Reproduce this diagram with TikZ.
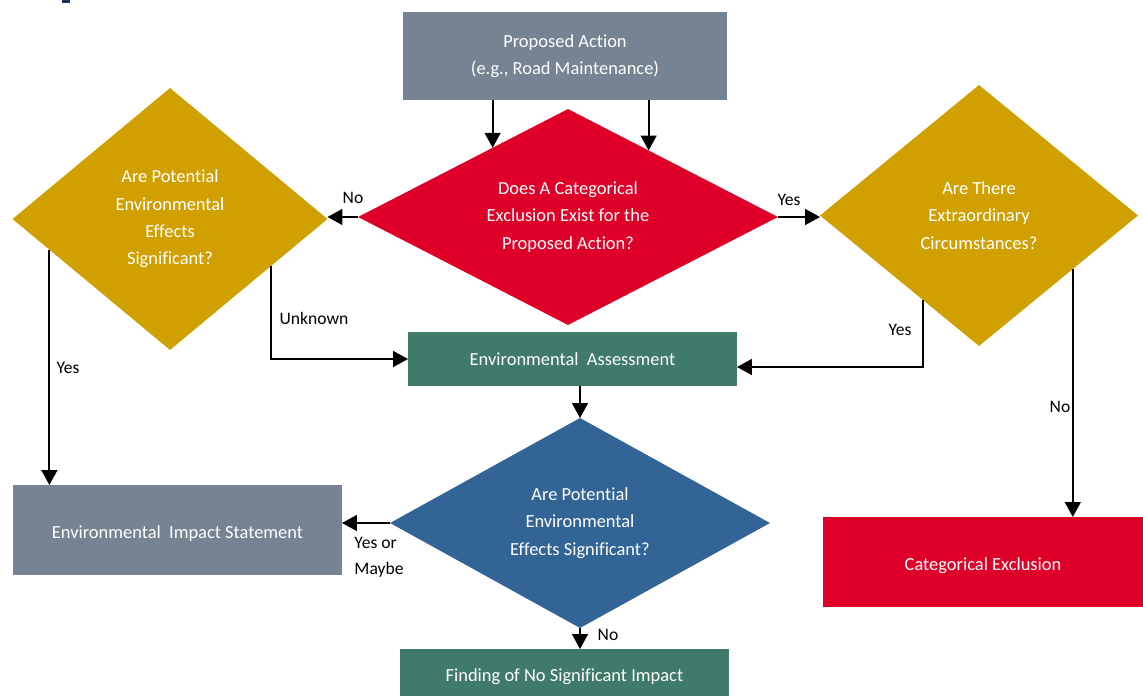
\documentclass[tikz,border=0pt]{standalone}
\usepackage{fontspec}
\setmainfont{Carlito}[Ligatures=NoCommon]
\usetikzlibrary{shapes.geometric,arrows.meta,calc}
\definecolor{slate}{RGB}{117,131,146}
\definecolor{crimson}{RGB}{223,0,41}
\definecolor{gold}{RGB}{207,160,0}
\definecolor{teal}{RGB}{63,122,106}
\definecolor{steel}{RGB}{50,100,150}
\definecolor{navy}{RGB}{28,52,96}
\begin{document}
\begin{tikzpicture}[x=0.02cm,y=-0.02cm,
  box/.style={rectangle, inner sep=0pt, outer sep=0pt, text=white, font=\fontsize{10.5}{15.5}\selectfont, align=center},
  dia/.style={diamond, inner sep=0pt, outer sep=0pt, text=white, font=\fontsize{10.5}{15.5}\selectfont, align=center},
  arr/.style={line width=1.1pt, -{Triangle[length=8.5pt,width=9pt]}},
  lbl/.style={font=\fontsize{10}{15}\selectfont, text=black, inner sep=0pt, align=left}]
\clip (0,0) rectangle (1143,696);
\fill[navy] (62,0) rectangle (70,3);
% boxes
\node[box, fill=slate, minimum width=6.48cm, minimum height=1.76cm] (pa) at (565,56) {Proposed Action\\(e.g., Road Maintenance)};
\node[dia, fill=crimson, minimum width=8.4cm, minimum height=4.32cm, aspect=1.94] (q1) at (568,217) {Does A Categorical\\Exclusion Exist for the\\Proposed Action?};
\node[dia, fill=gold, minimum width=6.3cm, minimum height=5.24cm, aspect=1.2] (lq) at (170,219) {Are Potential\\Environmental\\Effects\\Significant?};
\node[dia, fill=gold, minimum width=6.36cm, minimum height=5.22cm, aspect=1.22] (rq) at (979,215.5) {Are There\\Extraordinary\\Circumstances?};
\node[box, fill=teal, minimum width=6.58cm, minimum height=1.08cm] (ea) at (572.5,359) {Environmental\ \ Assessment};
\node[dia, fill=steel, minimum width=7.6cm, minimum height=4.2cm, aspect=1.81] (bq) at (580,523) {Are Potential\\Environmental\\Effects Significant?};
\node[box, fill=slate, minimum width=6.58cm, minimum height=1.8cm, text height=12pt, text depth=2.3pt] (eis) at (177.5,530) {Environmental\ \ Impact Statement};
\node[box, fill=crimson, minimum width=6.4cm, minimum height=1.8cm, text height=12pt, text depth=2.3pt] (cex) at (983,562) {Categorical Exclusion};
\node[box, fill=teal, minimum width=6.58cm, minimum height=1.12cm] (fon) at (564.5,677) {Finding\ of No Significant Impact};
% connectors
\coordinate (p1) at ($(q1.north)!0.359!(q1.west)$);
\draw[arr] (pa.south -| p1) -- (p1);
\coordinate (p2) at ($(q1.north)!0.384!(q1.east)$);
\draw[arr] (pa.south -| p2) -- (p2);
\draw[arr] (q1.west) -- (q1.west -| lq.east);
\node[lbl] (lno) at (353,198) {No};
\draw[arr] (q1.east) -- (q1.east -| rq.west);
\node[lbl] (lyes) at (789,200) {Yes};
\coordinate (p3) at ($(lq.east)!0.356!(lq.south)$);
\draw[arr] (p3) |- (ea.west);
\node[lbl] (lunk) at (314,318) {Unknown};
\coordinate (p4) at ($(lq.west)!0.234!(lq.south)$);
\draw[arr] (p4) -- (p4 |- eis.north);
\node[lbl] (lyes2) at (68,368) {Yes};
\coordinate (p5) at ($(rq.south)!0.354!(rq.west)$);
\draw[arr] (p5) |- ([yshift=-0.16cm]ea.east);
\node[lbl] (lyes3) at (900,330) {Yes};
\coordinate (p6) at ($(rq.east)!0.41!(rq.south)$);
\draw[arr] (p6) -- (p6 |- cex.north);
\node[lbl] (lno2) at (1060,407) {No};
\draw[arr] (bq.north |- ea.south) -- (bq.north);
\draw[arr] (bq.west) -- (bq.west -| eis.east);
\node[lbl] (lym) at (379,557) {Yes or\\Maybe};
\draw[arr] (bq.south) -- (bq.south |- fon.north);
\node[lbl] (lno3) at (608,635) {No};
\end{tikzpicture}
\end{document}
